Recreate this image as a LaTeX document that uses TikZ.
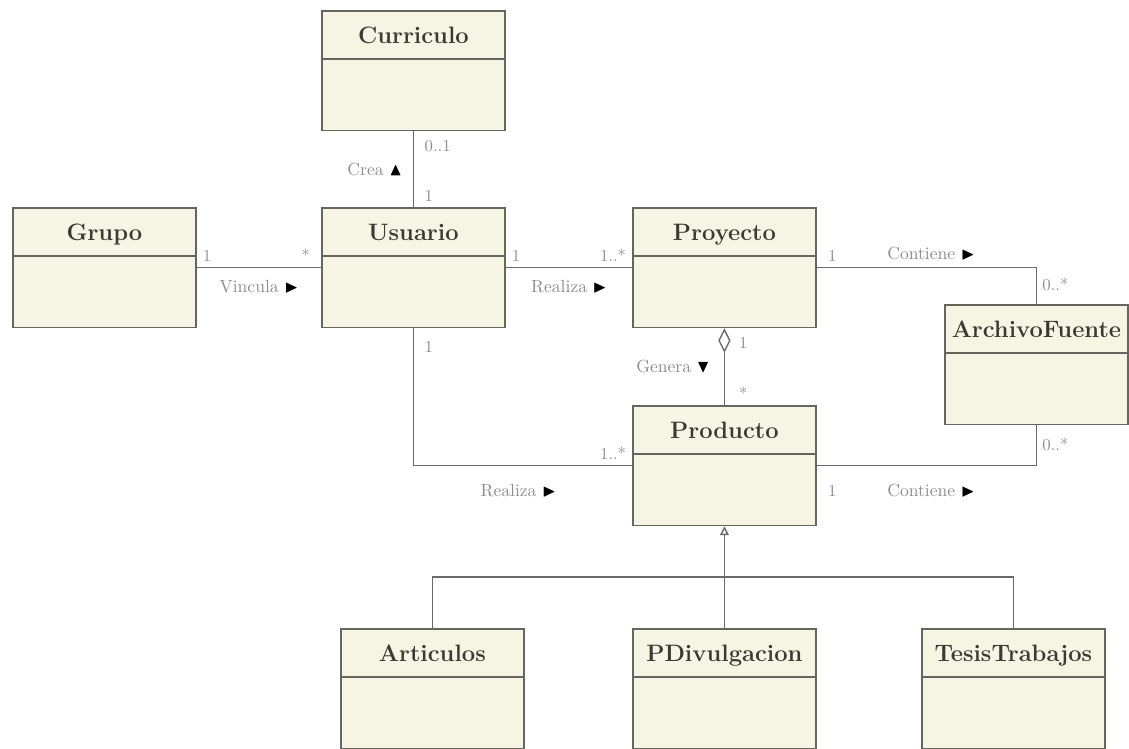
\documentclass[tikz,border=0pt]{standalone}
\usepackage{amssymb}
\usetikzlibrary{arrows.meta,shapes.multipart,positioning}

\definecolor{boxfill}{HTML}{F6F4E2}
\definecolor{boxline}{HTML}{66665E}
\definecolor{linkline}{HTML}{6A6A6A}
\definecolor{labelgray}{HTML}{8C8C8C}
\definecolor{namecol}{HTML}{3A3A32}

% class box: name part + empty body part
\newcommand{\umlname}[1]{\makebox[104.3pt]{\rule[-8.5pt]{0pt}{26.6pt}#1}\nodepart{two}\rule{0pt}{39.7pt}}
\newcommand{\flechader}{\textcolor{black}{$\blacktriangleright$}}
\newcommand{\flechaarr}{\textcolor{black}{$\blacktriangle$}}
\newcommand{\flechaab}{\textcolor{black}{$\blacktriangledown$}}

\tikzset{
  clase/.style={rectangle split, rectangle split parts=2, draw=boxline, fill=boxfill,
    line width=0.9pt, inner sep=0pt, anchor=north west,
    font=\fontsize{13.5}{16}\selectfont\bfseries, text=namecol},
  assoc/.style={draw=linkline, line width=0.8pt},
  mult/.style={font=\fontsize{9.5}{11}\selectfont, text=labelgray, inner sep=3pt},
  rol/.style={font=\fontsize{10}{12}\selectfont, text=labelgray, inner sep=2pt},
}

\begin{document}
\begin{tikzpicture}[x=0.02cm, y=-0.02cm]
    \useasboundingbox (0,0) rectangle (1129,748);

    \node[clase] (curriculo) at (321,10) {\umlname{Curriculo}};
    \node[clase] (grupo) at (12,207) {\umlname{Grupo}};
    \node[clase] (usuario) at (321,207) {\umlname{Usuario}};
    \node[clase] (proyecto) at (632,207) {\umlname{Proyecto}};
    \node[clase] (archivo) at (944,304) {\umlname{ArchivoFuente}};
    \node[clase] (producto) at (632,405) {\umlname{Producto}};
    \node[clase] (articulos) at (340,628) {\umlname{Articulos}};
    \node[clase] (pdivulgacion) at (632,628) {\umlname{PDivulgacion}};
    \node[clase] (tesis) at (921,628) {\umlname{TesisTrabajos}};

    % associations
    \draw[assoc] (curriculo.south) -- (usuario.north)
      node[mult, pos=0, below right, xshift=3pt, yshift=-2pt] {0..1}
      node[mult, pos=1, above right, xshift=3pt] {1}
      node[rol, midway, left=4pt] {Crea \flechaarr};
    \draw[assoc] (grupo.east) -- (usuario.west)
      node[mult, pos=0, above right] {1}
      node[mult, pos=1, above left, xshift=-3pt] {*}
      node[rol, midway, below=5pt] {Vincula \flechader};
    \draw[assoc] (usuario.east) -- (proyecto.west)
      node[mult, pos=0, above right] {1}
      node[mult, pos=1, above left] {1..*}
      node[rol, midway, below=5pt] {Realiza \flechader};
    \draw[assoc] (proyecto.east) -| (archivo.north)
      node[mult, pos=0, above right, xshift=3pt] {1}
      node[rol, pos=0.26, above=2pt] {Contiene \flechader}
      node[mult, pos=1, above right, yshift=4pt] {0..*};
    \draw[assoc, {Diamond[open, length=14pt, width=7pt]}-] (proyecto.south) -- (producto.north)
      node[mult, pos=0, below right, xshift=5pt, yshift=-2pt] {1}
      node[mult, pos=1, above right, xshift=5pt] {*}
      node[rol, midway, left=6pt] {Genera \flechaab};
    \draw[assoc] (usuario.south) |- (producto.west)
      node[mult, pos=0, below right, xshift=3pt, yshift=-4pt] {1}
      node[mult, pos=1, above left] {1..*}
      node[rol, pos=0.74, below=8pt] {Realiza \flechader};
    \draw[assoc] (producto.east) -| (archivo.south)
      node[mult, pos=0, below right, xshift=3pt, yshift=-8pt] {1}
      node[rol, pos=0.26, below=8pt] {Contiene \flechader}
      node[mult, pos=1, below right, yshift=-4pt] {0..*};

    % generalization
    \coordinate (nivel) at (0,577);
    \draw[assoc, -{Triangle[open, length=5pt, width=5pt]}] (pdivulgacion.north) -- (producto.south);
    \draw[assoc] (articulos.north) |- (tesis.north |- nivel) -- (tesis.north);
\end{tikzpicture}
\end{document}
